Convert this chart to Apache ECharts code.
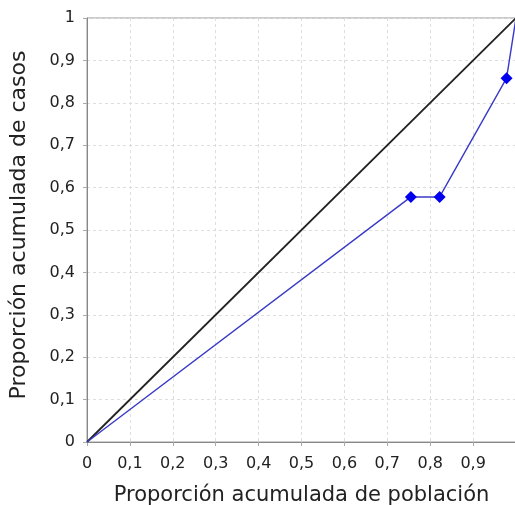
<!DOCTYPE html>
<html><head><meta charset="utf-8">
<script src="https://cdn.jsdelivr.net/npm/echarts@6/dist/echarts.min.js"></script>
<style>html,body{margin:0;padding:0;background:#fff}#c{width:515px;height:505px}</style>
</head><body><div id="c"></div>
<script>
var popX = [0, 0.755, 0.822, 0.978, 1];
var casesY = [0, 0.578, 0.578, 0.858, 1];
var diagX = [0, 1];
var diagY = [0, 1];
var xTitle = 'Proporción acumulada de población';
var yTitle = 'Proporción acumulada de casos';

var chart = echarts.init(document.getElementById('c'));
function fmt(v){ return (Math.round(v*10)/10).toString().replace('.', ','); }
var markerShown = popX.map(function(x){ return x > 0 && x < 1; });
var FONT = 'DejaVu Sans, Verdana, sans-serif';
chart.setOption({
  animation: false,
  backgroundColor: '#fff',
  textStyle: { fontFamily: FONT },
  grid: { left: 87, right: -1, top: 18, bottom: 63, show: true, borderColor: '#999', borderWidth: 1,
          containLabel: false, outerBoundsMode: 'none' },
  xAxis: {
    type: 'value', min: 0, max: 1, interval: 0.1,
    name: xTitle, nameLocation: 'middle', nameGap: 43,
    nameTextStyle: { fontSize: 21, color: '#222', fontFamily: FONT },
    axisLine: { show: true, lineStyle: { color: '#888' } },
    axisTick: { show: true, length: 4, lineStyle: { color: '#aaa' } },
    axisLabel: { fontSize: 16, color: '#222', margin: 14, formatter: fmt, showMaxLabel: false, fontFamily: FONT },
    splitLine: { show: true, lineStyle: { color: '#ddd', type: [3, 3] } }
  },
  yAxis: {
    type: 'value', min: 0, max: 1, interval: 0.1,
    name: yTitle, nameLocation: 'middle', nameGap: 57,
    nameTextStyle: { fontSize: 22, color: '#222', fontFamily: FONT, padding: [0, 0, 0, 10] },
    axisLine: { show: true, lineStyle: { color: '#888' } },
    axisTick: { show: true, length: 4, lineStyle: { color: '#aaa' } },
    axisLabel: { fontSize: 16, color: '#222', margin: 12, formatter: fmt, fontFamily: FONT },
    splitLine: { show: true, lineStyle: { color: '#ddd', type: [3, 3] } }
  },
  series: [
    {
      type: 'line', data: diagX.map(function(x, i){ return [x, diagY[i]]; }),
      showSymbol: false, lineStyle: { color: '#222', width: 1.8 }, z: 2
    },
    {
      type: 'line',
      data: popX.map(function(x, i){
        return { value: [x, casesY[i]], symbolSize: markerShown[i] ? 12 : 0 };
      }),
      symbol: 'diamond', showAllSymbol: true,
      lineStyle: { color: '#3a3ac8', width: 1.4 },
      itemStyle: { color: '#0000ee' }, z: 3
    }
  ]
});
</script></body></html>
